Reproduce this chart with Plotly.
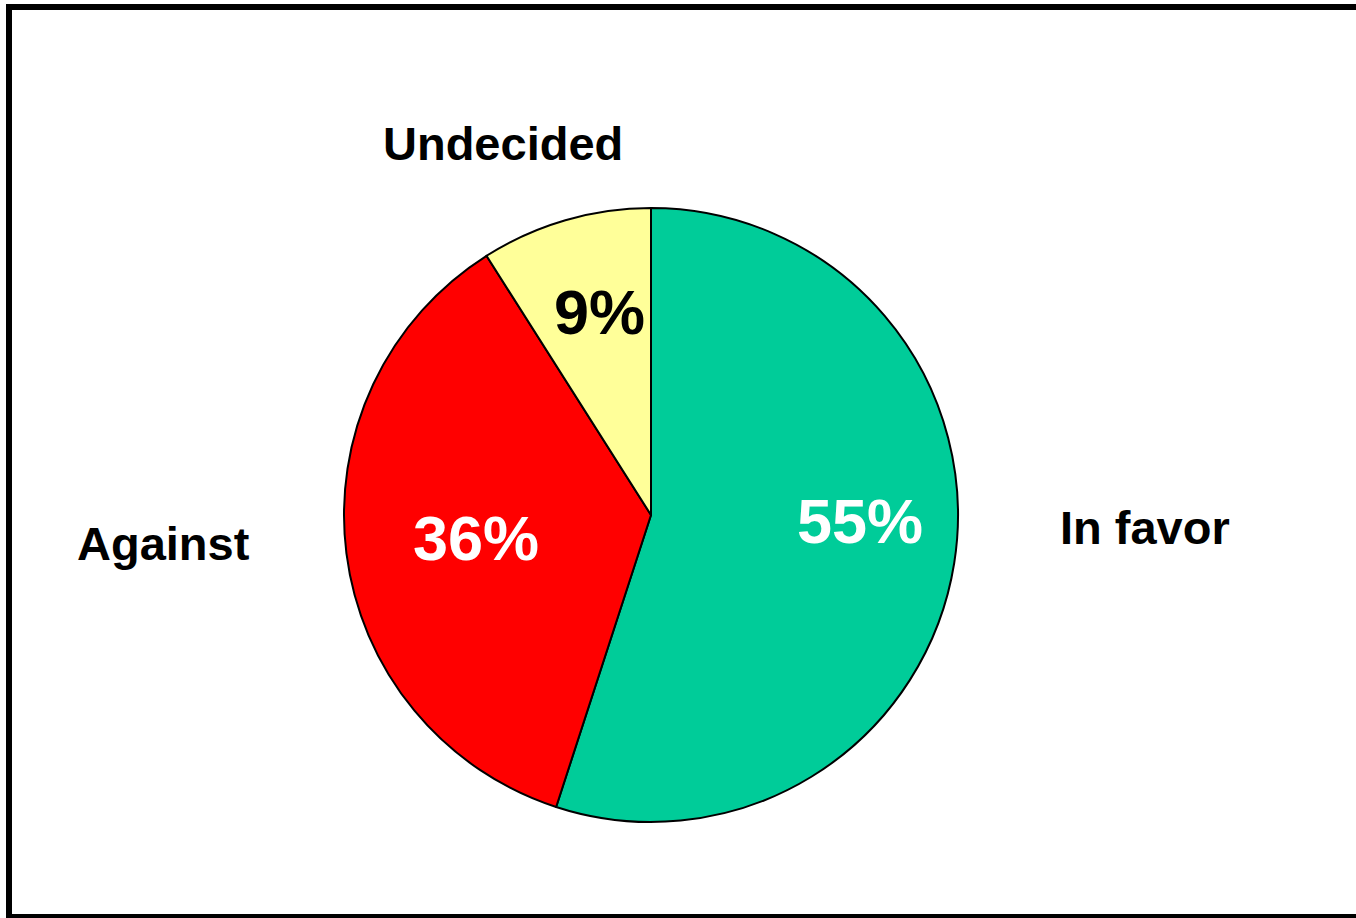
import plotly.graph_objects as go

categories = ["In favor", "Against", "Undecided"]
values = [55, 36, 9]
colors = ["#00CC99", "#FF0000", "#FFFF99"]
pct_colors = ["white", "white", "black"]

W, H = 1356, 918
cx, cy, r = 651, 515, 307
FONT = "Liberation Sans, Arial"

fig = go.Figure(go.Pie(
    labels=categories,
    values=values,
    sort=False,
    direction="clockwise",
    rotation=0,
    marker=dict(colors=colors, line=dict(color="black", width=2)),
    textinfo="none",
    hoverinfo="label+percent",
    domain=dict(x=[(cx - r) / W, (cx + r) / W], y=[1 - (cy + r) / H, 1 - (cy - r) / H]),
    showlegend=False,
))

# outside category labels (pixel positions of text centres)
label_pos = {"Undecided": (503, 143), "Against": (163, 543), "In favor": (1145, 527)}
# percentage labels inside slices (pixel positions of text centres)
pct_pos = {"In favor": (860, 521), "Against": (476, 538), "Undecided": (599, 312)}

for name, val, pc in zip(categories, values, pct_colors):
    px, py = label_pos[name]
    fig.add_annotation(
        x=px / W, y=1 - py / H, xref="paper", yref="paper",
        text="<b>%s</b>" % name, showarrow=False,
        xanchor="center", yanchor="middle",
        font=dict(family=FONT, size=47, color="black"),
    )
    qx, qy = pct_pos[name]
    fig.add_annotation(
        x=qx / W, y=1 - qy / H, xref="paper", yref="paper",
        text="<b>%d%%</b>" % val, showarrow=False,
        xanchor="center", yanchor="middle",
        font=dict(family=FONT, size=63, color=pc),
    )

fig.add_shape(type="rect", xref="paper", yref="paper",
              x0=9 / W, x1=1359 / W, y0=1 - 917 / H, y1=1 - 7 / H,
              line=dict(color="black", width=6), fillcolor="rgba(0,0,0,0)")

fig.update_layout(
    width=W, height=H,
    margin=dict(l=0, r=0, t=0, b=0),
    paper_bgcolor="white", plot_bgcolor="white",
)

fig.write_html("out.html", config={"displayModeBar": False},
               post_script="document.body.style.margin='0';")
